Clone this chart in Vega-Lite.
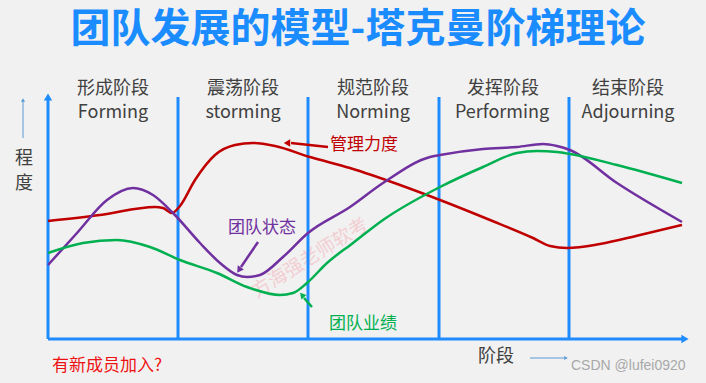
{
  "$schema": "https://vega.github.io/schema/vega-lite/v6.json",
  "width": 706,
  "height": 383,
  "autosize": {"type": "none"},
  "padding": 0,
  "background": "#f1f1f1",
  "config": {"view": {"stroke": null}, "font": "Noto Sans CJK SC"},
  "datasets": {
    "curves": [
      {"series": "管理力度", "x": 0, "y": 118},
      {"series": "管理力度", "x": 52, "y": 124},
      {"series": "管理力度", "x": 107, "y": 132},
      {"series": "管理力度", "x": 115, "y": 131},
      {"series": "管理力度", "x": 124, "y": 126},
      {"series": "管理力度", "x": 132, "y": 133},
      {"series": "管理力度", "x": 147, "y": 159},
      {"series": "管理力度", "x": 167, "y": 184},
      {"series": "管理力度", "x": 187, "y": 194},
      {"series": "管理力度", "x": 205, "y": 196},
      {"series": "管理力度", "x": 227, "y": 193},
      {"series": "管理力度", "x": 262, "y": 182},
      {"series": "管理力度", "x": 302, "y": 171},
      {"series": "管理力度", "x": 352, "y": 154},
      {"series": "管理力度", "x": 392, "y": 139},
      {"series": "管理力度", "x": 442, "y": 119},
      {"series": "管理力度", "x": 485, "y": 101},
      {"series": "管理力度", "x": 502, "y": 93},
      {"series": "管理力度", "x": 519, "y": 91},
      {"series": "管理力度", "x": 552, "y": 95},
      {"series": "管理力度", "x": 592, "y": 104},
      {"series": "管理力度", "x": 634, "y": 114},
      {"series": "团队状态", "x": 0, "y": 74},
      {"series": "团队状态", "x": 29, "y": 106},
      {"series": "团队状态", "x": 59, "y": 139},
      {"series": "团队状态", "x": 85, "y": 151},
      {"series": "团队状态", "x": 105, "y": 144},
      {"series": "团队状态", "x": 125, "y": 126},
      {"series": "团队状态", "x": 152, "y": 96},
      {"series": "团队状态", "x": 172, "y": 76},
      {"series": "团队状态", "x": 189, "y": 64},
      {"series": "团队状态", "x": 199, "y": 62},
      {"series": "团队状态", "x": 212, "y": 64},
      {"series": "团队状态", "x": 235, "y": 82},
      {"series": "团队状态", "x": 260, "y": 106},
      {"series": "团队状态", "x": 302, "y": 132},
      {"series": "团队状态", "x": 335, "y": 156},
      {"series": "团队状态", "x": 382, "y": 182},
      {"series": "团队状态", "x": 392, "y": 184},
      {"series": "团队状态", "x": 435, "y": 190},
      {"series": "团队状态", "x": 469, "y": 192},
      {"series": "团队状态", "x": 495, "y": 195},
      {"series": "团队状态", "x": 509, "y": 193},
      {"series": "团队状态", "x": 522, "y": 189},
      {"series": "团队状态", "x": 569, "y": 156},
      {"series": "团队状态", "x": 634, "y": 117},
      {"series": "团队业绩", "x": 0, "y": 86},
      {"series": "团队业绩", "x": 35, "y": 96},
      {"series": "团队业绩", "x": 69, "y": 99},
      {"series": "团队业绩", "x": 102, "y": 92},
      {"series": "团队业绩", "x": 132, "y": 79},
      {"series": "团队业绩", "x": 169, "y": 66},
      {"series": "团队业绩", "x": 199, "y": 52},
      {"series": "团队业绩", "x": 232, "y": 44},
      {"series": "团队业绩", "x": 245, "y": 46},
      {"series": "团队业绩", "x": 259, "y": 56},
      {"series": "团队业绩", "x": 279, "y": 76},
      {"series": "团队业绩", "x": 305, "y": 96},
      {"series": "团队业绩", "x": 335, "y": 119},
      {"series": "团队业绩", "x": 392, "y": 152},
      {"series": "团队业绩", "x": 435, "y": 172},
      {"series": "团队业绩", "x": 469, "y": 186},
      {"series": "团队业绩", "x": 489, "y": 188},
      {"series": "团队业绩", "x": 509, "y": 187},
      {"series": "团队业绩", "x": 522, "y": 185},
      {"series": "团队业绩", "x": 569, "y": 174},
      {"series": "团队业绩", "x": 634, "y": 156}
    ],
    "frame": [
      {"x": 0, "y": 0, "x2": 0, "y2": 240},
      {"x": 0, "y": 0, "x2": 635, "y2": 0},
      {"x": 130, "y": 0, "x2": 130, "y2": 242},
      {"x": 260, "y": 0, "x2": 260, "y2": 242},
      {"x": 391, "y": 0, "x2": 391, "y2": 242},
      {"x": 521, "y": 0, "x2": 521, "y2": 242}
    ],
    "heads": [
      {"id": "up", "x": 0, "y": 242},
      {"id": "right", "x": 637, "y": 0}
    ],
    "pointers": [
      {"series": "管理力度", "x": 280, "y": 192, "x2": 243, "y2": 196},
      {"series": "团队状态", "x": 210, "y": 97, "x2": 193, "y2": 72},
      {"series": "团队业绩", "x": 264, "y": 32, "x2": 256, "y2": 41}
    ],
    "pointerHeads": [
      {"series": "管理力度", "x": 239, "y": 196},
      {"series": "团队状态", "x": 191, "y": 69},
      {"series": "团队业绩", "x": 254, "y": 44}
    ],
    "hints": [
      {"id": "v", "x": -25, "y": 201, "x2": -25, "y2": 238},
      {"id": "h", "x": 482, "y": -19, "x2": 516, "y2": -19}
    ],
    "hintHeads": [
      {"id": "v", "x": -25, "y": 239},
      {"id": "h", "x": 518, "y": -19}
    ],
    "labels": [
      {"kind": "title", "text": "团队发展的模型-塔克曼阶梯理论", "x": 310, "y": 309},
      {"kind": "stage", "text": "形成阶段", "x": 65, "y": 250},
      {"kind": "stage", "text": "Forming", "x": 65, "y": 226},
      {"kind": "stage", "text": "震荡阶段", "x": 195, "y": 250},
      {"kind": "stage", "text": "storming", "x": 195, "y": 226},
      {"kind": "stage", "text": "规范阶段", "x": 325, "y": 250},
      {"kind": "stage", "text": "Norming", "x": 325, "y": 226},
      {"kind": "stage", "text": "发挥阶段", "x": 455, "y": 250},
      {"kind": "stage", "text": "Performing", "x": 454, "y": 226},
      {"kind": "stage", "text": "结束阶段", "x": 580, "y": 250},
      {"kind": "stage", "text": "Adjourning", "x": 580, "y": 226},
      {"kind": "stage", "text": "程", "x": -24, "y": 180},
      {"kind": "stage", "text": "度", "x": -24, "y": 155}
    ],
    "notes": [
      {"series": "管理力度", "text": "管理力度", "x": 282, "y": 194},
      {"series": "团队状态", "text": "团队状态", "x": 180, "y": 111},
      {"series": "团队业绩", "text": "团队业绩", "x": 281, "y": 15}
    ],
    "footer": [
      {"kind": "question", "text": "有新成员加入?", "x": 4, "y": -27},
      {"kind": "axis", "text": "阶段", "x": 430, "y": -18},
      {"kind": "credit", "text": "CSDN @lufei0920", "x": 523, "y": -27},
      {"kind": "mark", "text": "方海强老师软考", "x": 262, "y": 81}
    ]
  },
  "encoding": {
    "x": {"field": "x", "type": "quantitative", "scale": {"domain": [-48, 658], "nice": false, "zero": false}, "axis": null},
    "y": {"field": "y", "type": "quantitative", "scale": {"domain": [-44, 339], "nice": false, "zero": false}, "axis": null}
  },
  "layer": [
    {
      "data": {"name": "footer"},
      "transform": [{"filter": "datum.kind === 'mark'"}],
      "mark": {"type": "text", "fontSize": 19, "angle": 328, "color": "#f4b8c0", "opacity": 0.6, "align": "center", "baseline": "middle"},
      "encoding": {"text": {"field": "text"}}
    },
    {
      "data": {"name": "frame"},
      "mark": {"type": "rule", "color": "#1e8cff", "strokeWidth": 3},
      "encoding": {"x2": {"field": "x2"}, "y2": {"field": "y2"}}
    },
    {
      "data": {"name": "heads"},
      "transform": [{"filter": "datum.id === 'up'"}],
      "mark": {"type": "point", "shape": "triangle-up", "filled": true, "color": "#1e8cff", "opacity": 1, "size": 70}
    },
    {
      "data": {"name": "heads"},
      "transform": [{"filter": "datum.id === 'right'"}],
      "mark": {"type": "point", "shape": "triangle-right", "filled": true, "color": "#1e8cff", "opacity": 1, "size": 70}
    },
    {
      "data": {"name": "curves"},
      "mark": {"type": "line", "interpolate": "monotone", "strokeWidth": 2.5},
      "encoding": {
        "color": {"field": "series", "type": "nominal", "scale": {"domain": ["管理力度", "团队状态", "团队业绩"], "range": ["#c00000", "#7030a0", "#00b050"]}, "legend": null}
      }
    },
    {
      "data": {"name": "pointers"},
      "mark": {"type": "rule", "strokeWidth": 2.5},
      "encoding": {
        "x2": {"field": "x2"}, "y2": {"field": "y2"},
        "color": {"field": "series", "type": "nominal", "legend": null}
      }
    },
    {
      "data": {"name": "pointerHeads"},
      "transform": [{"filter": "datum.series === '管理力度'"}],
      "mark": {"type": "point", "shape": "triangle-left", "filled": true, "opacity": 1, "size": 55},
      "encoding": {"color": {"field": "series", "type": "nominal", "legend": null}}
    },
    {
      "data": {"name": "pointerHeads"},
      "transform": [{"filter": "datum.series === '团队状态'"}],
      "mark": {"type": "point", "shape": "triangle-up", "filled": true, "opacity": 1, "size": 55, "angle": 214},
      "encoding": {"color": {"field": "series", "type": "nominal", "legend": null}}
    },
    {
      "data": {"name": "pointerHeads"},
      "transform": [{"filter": "datum.series === '团队业绩'"}],
      "mark": {"type": "point", "shape": "triangle-up", "filled": true, "opacity": 1, "size": 45, "angle": 319},
      "encoding": {"color": {"field": "series", "type": "nominal", "legend": null}}
    },
    {
      "data": {"name": "hints"},
      "mark": {"type": "rule", "color": "#5b9bd5", "strokeWidth": 1},
      "encoding": {"x2": {"field": "x2"}, "y2": {"field": "y2"}}
    },
    {
      "data": {"name": "hintHeads"},
      "transform": [{"filter": "datum.id === 'v'"}],
      "mark": {"type": "point", "shape": "triangle-up", "filled": true, "color": "#5b9bd5", "opacity": 1, "size": 18}
    },
    {
      "data": {"name": "hintHeads"},
      "transform": [{"filter": "datum.id === 'h'"}],
      "mark": {"type": "point", "shape": "triangle-right", "filled": true, "color": "#5b9bd5", "opacity": 1, "size": 18}
    },
    {
      "data": {"name": "labels"},
      "transform": [{"filter": "datum.kind === 'title'"}],
      "mark": {"type": "text", "fontSize": 40, "fontWeight": "bold", "color": "#1a8cff", "align": "center", "baseline": "middle"},
      "encoding": {"text": {"field": "text"}}
    },
    {
      "data": {"name": "labels"},
      "transform": [{"filter": "datum.kind === 'stage'"}],
      "mark": {"type": "text", "fontSize": 18, "color": "#404040", "align": "center", "baseline": "middle"},
      "encoding": {"text": {"field": "text"}}
    },
    {
      "data": {"name": "notes"},
      "mark": {"type": "text", "fontSize": 17, "align": "left", "baseline": "middle"},
      "encoding": {
        "text": {"field": "text"},
        "color": {"field": "series", "type": "nominal", "legend": null}
      }
    },
    {
      "data": {"name": "footer"},
      "transform": [{"filter": "datum.kind === 'question'"}],
      "mark": {"type": "text", "fontSize": 17, "color": "#ee1111", "align": "left", "baseline": "middle"},
      "encoding": {"text": {"field": "text"}}
    },
    {
      "data": {"name": "footer"},
      "transform": [{"filter": "datum.kind === 'axis'"}],
      "mark": {"type": "text", "fontSize": 18, "color": "#404040", "align": "left", "baseline": "middle"},
      "encoding": {"text": {"field": "text"}}
    },
    {
      "data": {"name": "footer"},
      "transform": [{"filter": "datum.kind === 'credit'"}],
      "mark": {"type": "text", "fontSize": 14, "font": "Liberation Sans", "color": "#a8a8a8", "align": "left", "baseline": "middle"},
      "encoding": {"text": {"field": "text"}}
    }
  ]
}
